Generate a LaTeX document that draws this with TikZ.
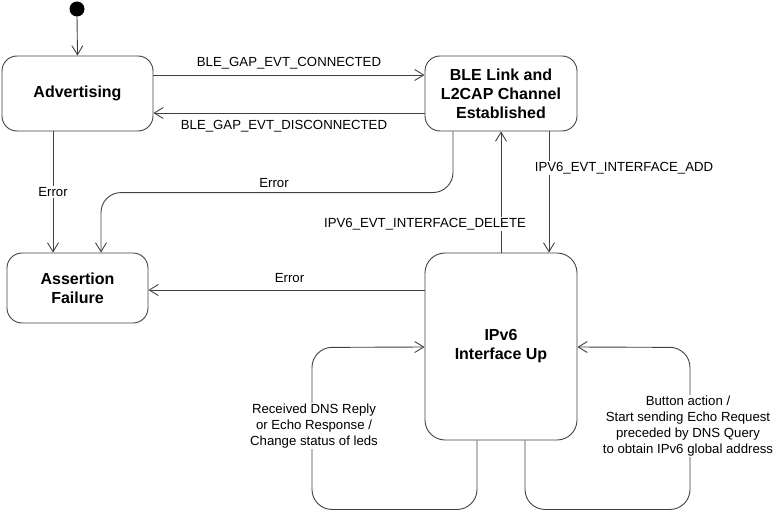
\documentclass[tikz,border=0pt]{standalone}
\usepackage{fontspec}
\setmainfont{Liberation Sans}
\usetikzlibrary{arrows.meta}
\begin{document}
\begin{tikzpicture}[x=1pt,y=-1pt,
  line width=0.9pt,
  state/.style={draw=black!75, rectangle, rounded corners=15pt, inner sep=0pt, align=center,
    font=\fontsize{16}{19}\selectfont\bfseries},
  lbl/.style={fill=white, inner sep=1pt, align=center, font=\fontsize{13.2}{16}\selectfont},
  arr/.style={draw=black!75, -{Straight Barb[length=9pt,width=11pt]}},
  ln/.style={draw=black!75}]
\useasboundingbox (0,0) rectangle (782,511);
\fill (77,9) circle (7.5) coordinate (init);
\node[state, minimum width=151pt, minimum height=75pt] (adv) at (77.5,93.5) {Advertising};
\node[state, minimum width=152pt, minimum height=75pt] (ble) at (501,93.5) {BLE Link and\\L2CAP Channel\\Established};
\node[state, minimum width=141pt, minimum height=70pt] (asf) at (77.5,288) {Assertion\\Failure};
\node[state, rounded corners=20pt, minimum width=152pt, minimum height=187pt] (ip) at (501,346.5) {IPv6\\Interface Up};

\draw[arr] ([yshift=-7pt]init) -- (adv.north);
\draw[arr] ([yshift=18.5pt]adv.east) -- node[lbl, yshift=12pt] {BLE\_GAP\_EVT\_CONNECTED} ([yshift=18.5pt]ble.west);
\draw[arr] ([yshift=-19.5pt]ble.west) -- node[lbl, yshift=-13pt, xshift=-5pt] {BLE\_GAP\_EVT\_DISCONNECTED} ([yshift=-19.5pt]adv.east);
\draw[arr] ([xshift=-24.5pt]adv.south) -- node[lbl] {Error} ([xshift=-24.5pt]asf.north);
\draw[arr, rounded corners=20pt] ([xshift=-48pt]ble.south) |- ([xshift=23.5pt, yshift=60pt]asf.north) -- ([xshift=23.5pt]asf.north);
\node[lbl, fill=none] (e2) at (274,183) {Error};
\draw[arr] (ip.north) -- node[lbl, pos=0.238, xshift=-76pt] {IPV6\_EVT\_INTERFACE\_DELETE} (ble.south);
\draw[arr] ([xshift=48pt]ble.south) -- node[lbl, pos=0.30, xshift=75pt] {IPV6\_EVT\_INTERFACE\_ADD} ([xshift=48pt]ip.north);
\draw[arr] ([yshift=56.5pt]ip.west) -- node[lbl, fill=none, yshift=12pt, xshift=3pt] {Error} ([yshift=-2pt]asf.east);
\draw[arr, rounded corners=20pt] ([xshift=-24pt]ip.south) -- ++(0,69) -| ++(-165,-162) -- ([yshift=-0.5pt]ip.west);
\draw[arr, rounded corners=20pt] ([xshift=24pt]ip.south) -- ++(0,69) -| ++(165,-162) -- ([yshift=-0.5pt]ip.east);
\node[lbl] (l1) at (314,426) {Received DNS Reply\\or Echo Response /\\Change status of leds};
\node[lbl] (l2) at (688,426) {Button action /\\Start sending Echo Request\\preceded by DNS Query\\to obtain IPv6 global address};
\end{tikzpicture}
\end{document}
